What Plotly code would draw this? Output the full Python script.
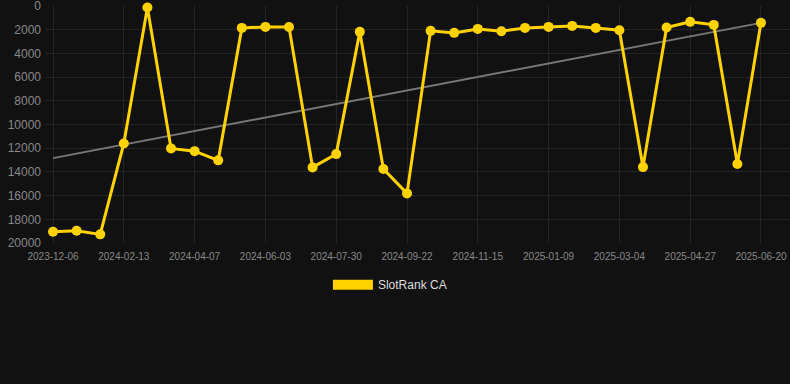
import plotly.graph_objects as go

tick_labels = ["2023-12-06", "2024-02-13", "2024-04-07", "2024-06-03", "2024-07-30",
               "2024-09-22", "2024-11-15", "2025-01-09", "2025-03-04", "2025-04-27", "2025-06-20"]
rank_values = [19050, 18960, 19270, 11590, 100, 12010, 12240, 13020, 1830, 1745,
               1750, 13615, 12490, 2165, 13755, 15810, 2080, 2250, 1915, 2110,
               1830, 1745, 1660, 1830, 2025, 13590, 1800, 1320, 1575, 13330, 1405]
trend_values = [12830, 1405]
series_name = "SlotRank CA"

n = len(rank_values)
xs = list(range(n))
tick_step = 3
tickvals = xs[::tick_step]

fig = go.Figure()
fig.add_trace(go.Scatter(
    x=[xs[0], xs[-1]], y=trend_values, mode="lines",
    line=dict(color="#777777", width=2), showlegend=False, hoverinfo="skip"))
fig.add_trace(go.Scatter(
    x=xs, y=rank_values, mode="lines+markers", name=series_name,
    line=dict(color="#FFD200", width=3),
    marker=dict(color="#FFD200", size=10),
    showlegend=False, cliponaxis=False))
fig.add_trace(go.Scatter(
    x=[None], y=[None], mode="lines", name=series_name,
    line=dict(color="#FFD200", width=11), showlegend=True))

fig.update_layout(
    width=790, height=384,
    paper_bgcolor="#111111", plot_bgcolor="#111111",
    margin=dict(l=45, r=0, t=6, b=141, pad=0),
    font=dict(family="Liberation Sans, Arial, sans-serif", color="#888888"),
    showlegend=True,
    legend=dict(orientation="h", x=0.463, xanchor="center", y=-0.115, yanchor="top",
                itemwidth=40,
                font=dict(size=12, color="#dddddd"), bgcolor="rgba(0,0,0,0)"),
)
fig.update_xaxes(
    range=[-0.34, 31.23], tickmode="array", tickvals=tickvals, ticktext=tick_labels,
    showgrid=True, gridcolor="#242424", gridwidth=1, zeroline=False, automargin=False,
    tickfont=dict(size=10, color="#888888"), showline=False, ticks="",
    ticklabelstandoff=6, ticklabeloverflow="allow")
fig.update_yaxes(
    range=[20000, -20], tickmode="linear", tick0=0, dtick=2000, tickformat="d",
    showgrid=True, gridcolor="#242424", gridwidth=1, zeroline=False, automargin=False,
    tickfont=dict(size=12, color="#888888"), showline=False, ticks="",
    ticklabelstandoff=3, ticklabeloverflow="allow")

fig.write_html("out.html", config={"displayModeBar": False},
               post_script="document.body.style.margin='0';document.body.style.background='#111111';")
